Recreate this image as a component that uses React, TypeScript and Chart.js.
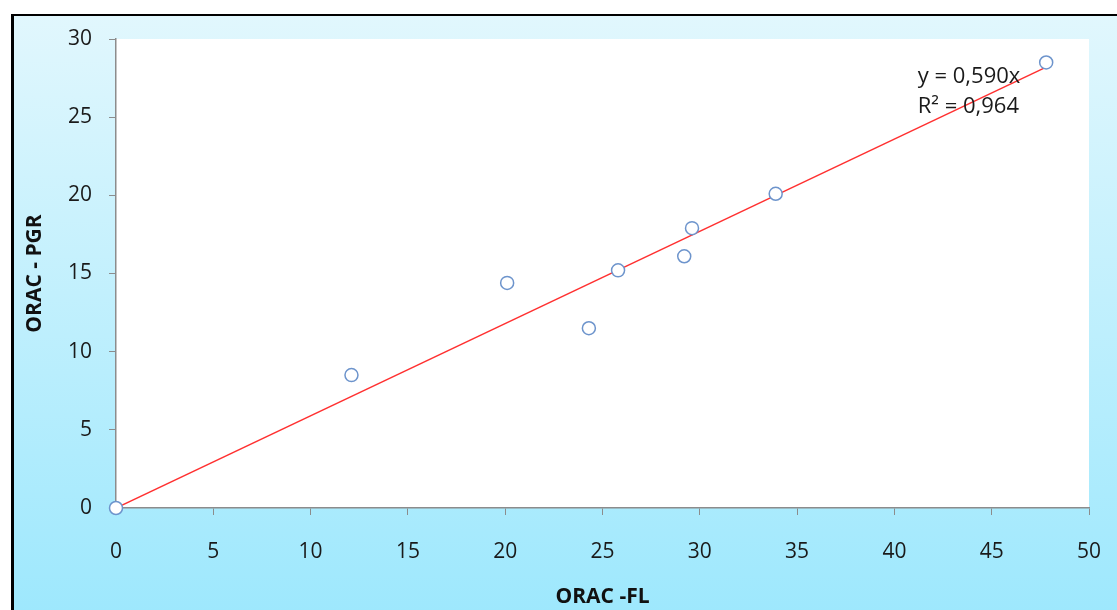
import React, { useEffect, useRef } from "react";
import { Chart, registerables } from "chart.js";

Chart.register(...registerables);

const oracFL = [0, 12.1, 20.1, 24.3, 25.8, 29.2, 29.6, 33.9, 47.8];
const oracPGR = [0, 8.5, 14.4, 11.5, 15.2, 16.1, 17.9, 20.1, 28.5];
const trendX = [0, 47.8];
const trendY = [0, 28.2];
const equationLines = ["y = 0,590x", "R² = 0,964"];
const xTitle = "ORAC -FL";
const yTitle = "ORAC - PGR";

const FONT = "'Open Sans', 'Noto Sans', sans-serif";

const equationPlugin = {
  id: "equation",
  afterDatasetsDraw(chart: any) {
    const { ctx, scales } = chart;
    const x = scales.x.getPixelForValue(41.2);
    const y0 = scales.y.getPixelForValue(27.6);
    ctx.save();
    ctx.font = `22px ${FONT}`;
    ctx.fillStyle = "#1a1a1a";
    ctx.textAlign = "left";
    ctx.textBaseline = "middle";
    equationLines.forEach((t, i) => ctx.fillText(t, x, y0 + i * 30));
    ctx.restore();
  },
};

export default function App() {
  const ref = useRef<HTMLCanvasElement | null>(null);
  useEffect(() => {
    if (!ref.current) return;
    const chart = new Chart(ref.current, {
      type: "scatter",
      data: {
        datasets: [
          {
            type: "line",
            data: trendX.map((x, i) => ({ x, y: trendY[i] })),
            borderColor: "#ff3030",
            borderWidth: 1.5,
            pointRadius: 0,
            fill: false,
            order: 2,
          } as any,
          {
            data: oracFL.map((x, i) => ({ x, y: oracPGR[i] })),
            pointRadius: 6.5,
            pointBorderWidth: 1.5,
            pointBorderColor: "#6d94cc",
            pointBackgroundColor: "#ffffff",
            showLine: false,
            clip: false,
            order: 1,
          } as any,
        ],
      },
      options: {
        responsive: false,
        animation: false,
        layout: { padding: { top: 39, right: 28, left: 0, bottom: 0 } },
        plugins: { legend: { display: false }, tooltip: { enabled: false } },
        scales: {
          x: {
            type: "linear",
            min: 0,
            max: 50,
            afterFit: (s: any) => {
              s.height = 102;
              s.paddingLeft = 0;
              s.paddingRight = 0;
            },
            ticks: {
              stepSize: 5,
              padding: 24,
              color: "#1a1a1a",
              font: { family: FONT, size: 21 },
            },
            grid: { drawOnChartArea: false, drawTicks: true, tickLength: 7, color: "#8c8c8c" },
            border: { display: true, color: "#8c8c8c", width: 1.5 },
            title: {
              display: true,
              text: xTitle,
              color: "#111",
              font: { family: FONT, size: 21, weight: "bold" },
              padding: { top: 0, bottom: 0 },
            },
          },
          y: {
            type: "linear",
            min: 0,
            max: 30,
            afterFit: (s: any) => {
              s.width = 116;
              s.paddingTop = 0;
              s.paddingBottom = 0;
            },
            ticks: {
              stepSize: 5,
              padding: 17,
              color: "#1a1a1a",
              font: { family: FONT, size: 21 },
            },
            grid: { drawOnChartArea: false, drawTicks: true, tickLength: 7, color: "#8c8c8c" },
            border: { display: true, color: "#8c8c8c", width: 1.5 },
            title: {
              display: true,
              text: yTitle,
              color: "#111",
              font: { family: FONT, size: 21, weight: "bold" },
              padding: { top: 22, bottom: 0 },
            },
          },
        },
      },
      plugins: [
        {
          id: "plotBg",
          beforeDraw(c: any) {
            const { ctx, chartArea } = c;
            ctx.save();
            ctx.fillStyle = "#ffffff";
            ctx.fillRect(chartArea.left, chartArea.top, chartArea.right - chartArea.left, chartArea.bottom - chartArea.top);
            ctx.restore();
          },
        },
        equationPlugin,
      ],
    });
    return () => chart.destroy();
  }, []);

  return (
    <div style={{ position: "fixed", left: 0, top: 0, width: 1117, height: 610, overflow: "hidden", background: "#ffffff" }}>
      <div
        style={{
          position: "absolute",
          left: 11,
          top: 14,
          width: 1200,
          height: 700,
          boxSizing: "border-box",
          border: "2px solid #000",
          borderLeftWidth: 3,
          background: "linear-gradient(to bottom, #e1f7fd 0px, #9ee8fd 596px)",
        }}
      />
      <canvas ref={ref} width={1117} height={610} style={{ position: "absolute", left: 0, top: 0 }} />
    </div>
  );
}
